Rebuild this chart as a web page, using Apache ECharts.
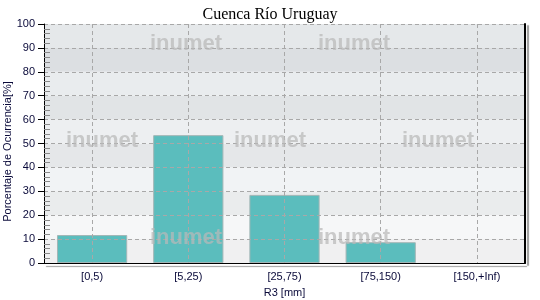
<!DOCTYPE html>
<html>
<head>
<meta charset="utf-8">
<script src="https://cdn.jsdelivr.net/npm/echarts@6/dist/echarts.min.js"></script>
<style>html,body{margin:0;padding:0;background:#fff}#c{width:540px;height:300px}</style>
</head>
<body>
<div id="c"></div>
<script>
const titleText = 'Cuenca Río Uruguay';
const categories = ['[0,5)', '[5,25)', '[25,75)', '[75,150)', '[150,+Inf)'];
const values = [11.7, 53.5, 28.5, 8.7, 0];
const yTicks = [0, 10, 20, 30, 40, 50, 60, 70, 80, 90, 100];
const xName = 'R3 [mm]';
const yName = 'Porcentaje de Ocurrencia[%]';
const watermark = 'inumet';

const bandColors = ['#f0f0f1','#f6f7f8','#eaeced','#f1f3f5','#e5e7e9','#edeff1','#e1e4e6','#e9ecee','#dcdfe2','#e5e8ea'];
const halfTicks = [];
for (let i = 0; i <= 2 * categories.length; i++) halfTicks.push(String(i));

const chart = echarts.init(document.getElementById('c'), null, {renderer: 'canvas'});
const labelColor = '#0a0a3a';
const font = '"Liberation Sans", Arial, sans-serif';
const wmStyle = {text: watermark, font: 'bold 22px "Liberation Sans", Arial, sans-serif', fill: 'rgba(185,185,185,0.72)', textAlign: 'center', textVerticalAlign: 'middle'};
const wmPos = [[186,44],[354,44],[102,141],[270,141],[438,141],[186,238],[354,238]];
const yMin = yTicks[0], yMax = yTicks[yTicks.length - 1];
chart.setOption({
  animation: false,
  title: {text: titleText, left: 'center', top: 2,
    textStyle: {fontFamily: '"Liberation Serif", "Times New Roman", serif', fontSize: 16, fontWeight: 'normal', color: '#000'}},
  grid: {left: 44, top: 24, width: 481, height: 239, outerBoundsMode: 'none', containLabel: false, show: false},
  xAxis: [
    {type: 'category', data: categories, z: 6,
     name: xName, nameLocation: 'middle', nameGap: 24,
     nameTextStyle: {fontFamily: font, fontSize: 11, color: labelColor},
     axisLine: {lineStyle: {color: '#000', width: 1, shadowColor: 'rgba(0,0,0,0.4)', shadowOffsetY: 3, shadowOffsetX: 2, shadowBlur: 1}},
     axisTick: {alignWithLabel: true, length: 6, lineStyle: {color: '#000', shadowColor: 'transparent'}},
     axisLabel: {fontFamily: font, fontSize: 11, color: labelColor, margin: 8},
     splitLine: {show: false}},
    {type: 'category', data: halfTicks, boundaryGap: false, position: 'bottom', z: 3,
     axisLine: {show: false}, axisTick: {show: false}, axisLabel: {show: false},
     splitLine: {show: true, interval: (i) => i % 2 === 1, lineStyle: {color: '#a8a8a8', type: [4, 3], width: 1}}},
    {type: 'category', data: categories, position: 'top', z: 6,
     axisLine: {show: true, lineStyle: {color: '#000', width: 1}}, axisTick: {show: false}, axisLabel: {show: false},
     splitLine: {show: false}}
  ],
  yAxis: [
    {type: 'value', min: yMin, max: yMax, interval: 10, z: 0,
     axisLine: {show: false},
     axisTick: {show: true, length: 6, lineStyle: {color: '#000'}},
     axisLabel: {fontFamily: font, fontSize: 11, color: labelColor, margin: 9},
     splitLine: {show: false},
     splitArea: {show: true, areaStyle: {color: bandColors}}},
    {type: 'value', min: yMin, max: yMax, interval: 10, position: 'left', offset: 0, z: 5,
     name: yName, nameLocation: 'middle', nameGap: 31, nameMoveOverlap: false,
     nameTextStyle: {fontFamily: font, fontSize: 11, color: labelColor, padding: [0, 16, 0, 0]},
     axisLine: {show: true, lineStyle: {color: '#000', width: 1}}, axisLabel: {show: false},
     axisTick: {show: false, inside: true},
     minorTick: {show: true, splitNumber: 5, length: 6, lineStyle: {color: '#8a8a8a'}},
     splitLine: {show: true, lineStyle: {color: '#a8a8a8', type: [4, 3], width: 1}},
     splitArea: {show: false}},
    {type: 'value', min: yMin, max: yMax, interval: 10, position: 'right', offset: 0, z: 6,
     axisLine: {show: true, lineStyle: {color: '#000', width: 2, shadowColor: 'rgba(0,0,0,0.4)', shadowOffsetX: 3, shadowOffsetY: 2, shadowBlur: 1}},
     axisLabel: {show: false}, axisTick: {show: false}, splitLine: {show: false}, splitArea: {show: false}}
  ],
  series: [{
    type: 'bar', xAxisIndex: 0, yAxisIndex: 0, barWidth: '73%', z: 2,
    data: values.map(v => v > 0 ? v : {value: v, itemStyle: {borderWidth: 0}}),
    itemStyle: {color: '#5bbdbd', borderColor: '#a3b6b6', borderWidth: 1}
  }],
  graphic: wmPos.map(p => ({type: 'text', x: p[0], y: p[1], z: 100, silent: true, style: wmStyle}))
});
</script>
</body>
</html>
